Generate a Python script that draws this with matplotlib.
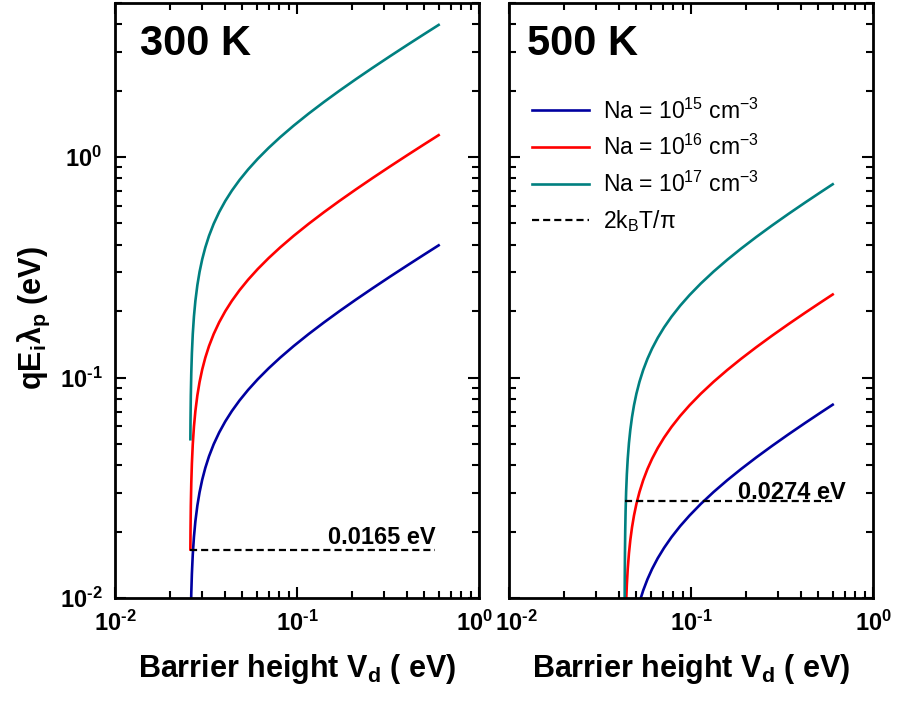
import numpy as np
import matplotlib
matplotlib.use('Agg')
import matplotlib.pyplot as plt
import matplotlib.transforms as mtransforms

plt.rcParams['font.family'] = ['Liberation Sans', 'DejaVu Sans']
plt.rcParams['mathtext.fontset'] = 'custom'
plt.rcParams['mathtext.rm'] = 'Liberation Sans'
plt.rcParams['mathtext.it'] = 'Liberation Sans:italic'
plt.rcParams['mathtext.bf'] = 'Liberation Sans:bold'

# Datos
# 300 K
x300 = [0.02595, 0.0260, 0.0261, 0.02625, 0.02645, 0.02675, 0.02715, 0.02765,
        0.02835, 0.02915, 0.03015, 0.03135, 0.03285, 0.03485, 0.03735, 0.04035,
        0.04385, 0.04835, 0.05385, 0.06085, 0.06985, 0.08085, 0.09585, 0.11585,
        0.14085, 0.17085, 0.21085, 0.26085, 0.32585, 0.40585, 0.49585, 0.6]
na15_300 = [0.00525, 0.00643, 0.0083, 0.0105, 0.01286, 0.01575, 0.01893, 0.02228,
            0.02625, 0.03016, 0.03442, 0.03893, 0.04393, 0.04981, 0.0563, 0.06322,
            0.07043, 0.07875, 0.08785, 0.09822, 0.11012, 0.12312, 0.1389, 0.1575,
            0.178, 0.1999, 0.2258, 0.2545, 0.2876, 0.3236, 0.3599, 0.3978]
na16_300 = [0.0166, 0.02034, 0.02625, 0.0332, 0.04066, 0.0498, 0.05987, 0.07044,
            0.0830, 0.09538, 0.10886, 0.12312, 0.13891, 0.1575, 0.17804, 0.19992,
            0.22273, 0.24903, 0.2778, 0.31059, 0.34824, 0.38935, 0.43925, 0.49806,
            0.56301, 0.63218, 0.71409, 0.80482, 0.90932, 1.02342, 1.13818, 1.25782]
na17_300 = [0.0525, 0.0643, 0.0830, 0.105, 0.1286, 0.1575, 0.1893, 0.2228,
            0.2625, 0.3016, 0.3442, 0.3893, 0.4393, 0.4981, 0.5630, 0.6322,
            0.7043, 0.7875, 0.8785, 0.9822, 1.1012, 1.2312, 1.3890, 1.575,
            1.7804, 1.9991, 2.2581, 2.5450, 2.8755, 3.2363, 3.5992, 3.9776]
# 500 K
x500 = [0.04318, 0.04323, 0.04333, 0.04348, 0.04368, 0.04398, 0.04438, 0.04488,
        0.04558, 0.04638, 0.04738, 0.04858, 0.05008, 0.05208, 0.05458, 0.05758,
        0.06108, 0.06558, 0.07108, 0.07808, 0.08708, 0.09808, 0.11308, 0.13308,
        0.15808, 0.18808, 0.22808, 0.27808, 0.34308, 0.42308, 0.51308, 0.6]
na15_500 = [0.00101, 0.00124, 0.0016, 0.00202, 0.00247, 0.00303, 0.00364, 0.00428,
            0.00505, 0.0058, 0.00662, 0.00748, 0.00844, 0.00957, 0.01082, 0.01215,
            0.01354, 0.01514, 0.01688, 0.01888, 0.02117, 0.02366, 0.0267, 0.03027,
            0.03422, 0.03842, 0.0434, 0.04891, 0.05527, 0.0622, 0.06917, 0.0753]
na16_500 = [0.00319, 0.00391, 0.00504, 0.00638, 0.00781, 0.00957, 0.01151, 0.01354,
            0.01595, 0.01833, 0.02092, 0.02366, 0.0267, 0.03027, 0.03422, 0.03842,
            0.04281, 0.04786, 0.05339, 0.05969, 0.06693, 0.07483, 0.08442, 0.09572,
            0.1082, 0.1215, 0.13724, 0.15468, 0.17476, 0.19669, 0.21874, 0.23813]
na17_500 = [0.01009, 0.01236, 0.01595, 0.02018, 0.02471, 0.03027, 0.03638, 0.04281,
            0.05045, 0.05797, 0.06616, 0.07483, 0.08442, 0.09572, 0.10821, 0.1215,
            0.13537, 0.15135, 0.16884, 0.18876, 0.21165, 0.23663, 0.26696, 0.3027,
            0.34217, 0.38422, 0.43399, 0.48913, 0.55265, 0.62199, 0.69174, 0.75304]

# linea 2kBT/pi
kt_line_x300 = [0.02595, 0.57]
kt_line_x500 = [0.04318, 0.60]
kt300 = 0.0165
kt500 = 0.0274

etiquetas = [r'Na = 10$^{15}$ cm$^{-3}$', r'Na = 10$^{16}$ cm$^{-3}$',
             r'Na = 10$^{17}$ cm$^{-3}$']
colores = ['#0000A0', '#FF0000', '#008080']
ticks = [0.01, 0.1, 1.0]
tick_labels = [r'$\mathbf{10^{‐2}}$', r'$\mathbf{10^{‐1}}$', r'$\mathbf{10^{0}}$']

fig = plt.figure(figsize=(9.04, 7.03), dpi=100)
ax1 = fig.add_axes([0.1272, 0.1494, 0.4027, 0.8463])
ax2 = fig.add_axes([0.5631, 0.1494, 0.4027, 0.8463])

paneles = [
    (ax1, x300, [na15_300, na16_300, na17_300], kt_line_x300, kt300, '300 K', '0.0165 eV', 0.577, 1.06, 0.069),
    (ax2, x500, [na15_500, na16_500, na17_500], kt_line_x500, kt500, '500 K', '0.0274 eV', 0.706, 1.03, 0.048),
]

for ax, x, series, kx, kv, titulo, texto, tx, ty, titx in paneles:
    for y, c, lab in zip(series, colores, etiquetas):
        ax.plot(x, y, color=c, lw=1.9, label=lab)
    ax.plot(kx, [kv, kv], color='black', lw=1.6, linestyle=(0, (3.2, 1.8)),
            label='2k$_\\mathrm{B}$T/π')
    ax.set_xscale('log')
    ax.set_yscale('log')
    ax.set_xlim(0.01, 1.0)
    ax.set_ylim(0.01, 5.0)
    ax.set_xticks(ticks)
    ax.set_xticklabels(tick_labels)
    ax.set_yticks(ticks)
    ax.set_yticklabels(tick_labels)
    ax.tick_params(which='both', direction='in', top=True, right=True, width=1.5)
    ax.tick_params(which='major', length=8, labelsize=17, pad=9)
    ax.tick_params(which='minor', length=5)
    for s in ax.spines.values():
        s.set_linewidth(2)
    ax.set_xlabel(r'Barrier height V$_\mathbf{d}$ ( eV)', fontsize=22,
                  fontweight='bold', labelpad=12)
    ax.text(titx, 0.9126, titulo, transform=ax.transAxes, fontsize=30,
            fontweight='bold', va='baseline')
    ax.text(tx, kv * ty, texto, fontsize=17, fontweight='bold', ha='right',
            va='baseline')

ax2.tick_params(labelleft=False)
ax1.set_ylabel(r'qE$_\mathbf{i}$λ$_\mathbf{p}$ (eV)', fontsize=22,
               fontweight='bold')
ax1.yaxis.set_label_coords(-0.173, 0.47)
ax2.legend(loc='upper left', bbox_to_anchor=(0.063, 0.84), frameon=False,
           fontsize=16.5, handlelength=2.5, handletextpad=0.6, labelspacing=0.5,
           borderpad=0, borderaxespad=0)

# separar las etiquetas 10^0 / 10^-2 que quedan juntas entre paneles
lbl_izq = ax1.get_xticklabels()[-1]
lbl_izq.set_transform(lbl_izq.get_transform() +
                      mtransforms.ScaledTranslation(-0.05, 0, fig.dpi_scale_trans))
lbl_der = ax2.get_xticklabels()[0]
lbl_der.set_transform(lbl_der.get_transform() +
                      mtransforms.ScaledTranslation(0.07, 0, fig.dpi_scale_trans))

fig.savefig('out.png', dpi=100, facecolor='white')
